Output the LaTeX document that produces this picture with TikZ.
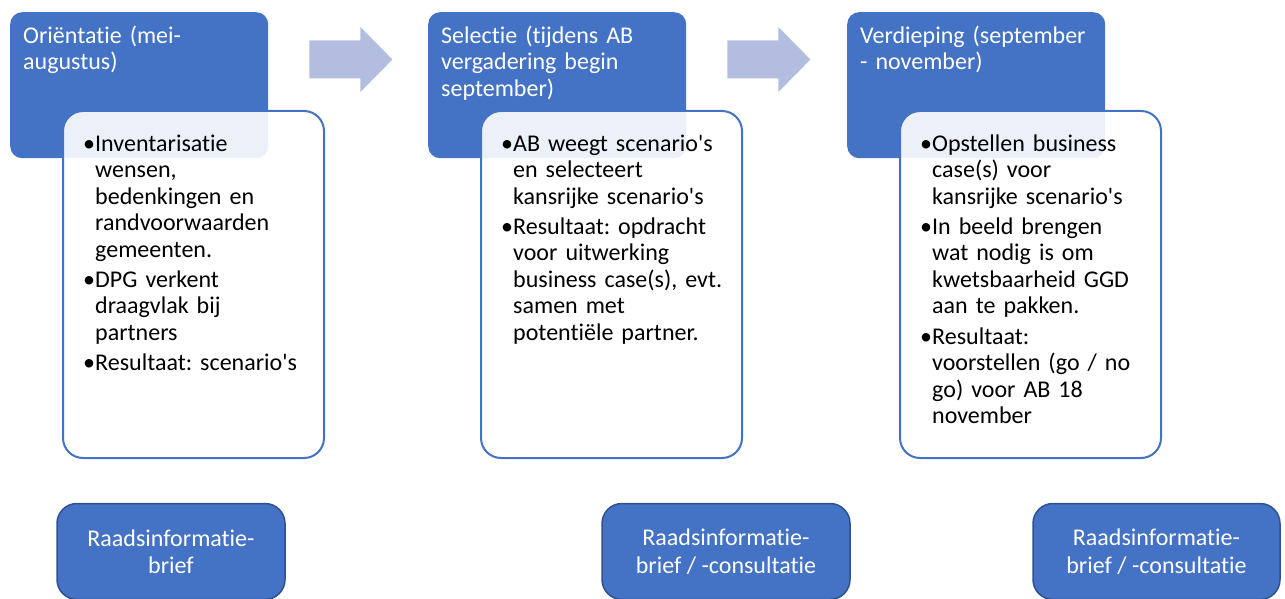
\documentclass[tikz,border=0pt]{standalone}
\usepackage{fontspec}
\setmainfont{Carlito}[Ligatures={TeX,NoCommon}]
\usetikzlibrary{calc}

\definecolor{accentblue}{HTML}{4472C4}
\definecolor{darkblue}{HTML}{2F528F}
\definecolor{arrowblue}{RGB}{178,189,224}

\newcommand{\bitem}[1]{\hangindent=12pt\hangafter=1\makebox[12pt][l]{\textbullet}#1\par}
\newcommand{\apos}{\textquotesingle}
\frenchspacing

\tikzset{
  phase/.style={fill=accentblue, rounded corners=12pt, minimum width=258pt,
    minimum height=146pt, anchor=north west, inner sep=0pt},
  phasetext/.style={anchor=base west, inner sep=0pt, text width=240pt, align=left,
    text=white, font=\fontsize{24}{26.5}\selectfont},
  card/.style={draw=accentblue, line width=2pt, fill=white, fill opacity=0.9,
    rounded corners=20pt, minimum width=261pt, minimum height=347pt,
    anchor=north west, inner sep=0pt},
  cardtext/.style={anchor=base west, inner sep=0pt, text width=228pt, align=left,
    font=\fontsize{24}{26.5}\selectfont,
    execute at begin node={\setlength{\parskip}{4pt}}},
  council/.style={fill=accentblue, draw=darkblue, line width=1.5pt,
    rounded corners=20pt, minimum height=96pt, text=white, align=center,
    inner sep=0pt, font=\fontsize{24}{27.5}\selectfont},
  flow/.style={fill=arrowblue}
}

\begin{document}
\begin{tikzpicture}[x=1pt,y=-1pt]
  \useasboundingbox (0,0) rectangle (1285,599);
  \clip (0,0) rectangle (1285,599);

  % fase 1: orientatie
  \node[phase] (orient) at (10,12) {};
  \node[phasetext] (orienttitle) at ($(orient.north west)+(13,31.5)$) {Oriëntatie (mei-\\augustus)};
  \node[card] (orientcard) at ($(orient.north west)+(52,98)$) {};
  \node[cardtext] (orientlist) at ($(orientcard.north west)+(21,41)$) {%
    \bitem{Inventarisatie\newline wensen,\newline bedenkingen en\newline randvoorwaarden\newline gemeenten.}%
    \bitem{DPG verkent\newline draagvlak bij\newline partners}%
    \bitem{Resultaat: scenario\apos s}};

  % fase 2: selectie
  \node[phase] (select) at (428,12) {};
  \node[phasetext] (selecttitle) at ($(select.north west)+(13,31.5)$) {Selectie (tijdens AB\\vergadering begin\\september)};
  \node[card] (selectcard) at ($(select.north west)+(52,98)$) {};
  \node[cardtext] (selectlist) at ($(selectcard.north west)+(21,41)$) {%
    \bitem{AB weegt scenario\apos s\newline en selecteert\newline kansrijke scenario\apos s}%
    \bitem{Resultaat: opdracht\newline voor uitwerking\newline business case(s), evt.\newline samen met\newline potentiële partner.}};

  % fase 3: verdieping
  \node[phase] (deepen) at (847,12) {};
  \node[phasetext] (deepentitle) at ($(deepen.north west)+(13,31.5)$) {Verdieping (september\\- november)};
  \node[card] (deepencard) at ($(deepen.north west)+(52,98)$) {};
  \node[cardtext] (deepenlist) at ($(deepencard.north west)+(21,41)$) {%
    \bitem{Opstellen business\newline case(s) voor\newline kansrijke scenario\apos s}%
    \bitem{In beeld brengen\newline wat nodig is om\newline kwetsbaarheid GGD\newline aan te pakken.}%
    \bitem{Resultaat:\newline voorstellen (go / no\newline go) voor AB 18\newline november}};

  % pijlen tussen de fasen
  \coordinate (flowA) at ($(orient.north east)+(41,47.5)$);
  \coordinate (flowB) at ($(select.north east)+(41,47.5)$);
  \fill[flow] (flowA) ++(0,-19) -- ++(51,0) -- ++(0,-13.5) -- ++(32,32.5)
    -- ++(-32,32.5) -- ++(0,-13.5) -- ++(-51,0) -- cycle;
  \fill[flow] (flowB) ++(0,-19) -- ++(51,0) -- ++(0,-13.5) -- ++(32,32.5)
    -- ++(-32,32.5) -- ++(0,-13.5) -- ++(-51,0) -- cycle;

  % raadsinformatie
  \node[council, minimum width=228pt] (briefA) at (171,551.5) {Raadsinformatie-\\brief};
  \node[council, minimum width=248pt] (briefB) at (726,551.5) {Raadsinformatie-\\brief / -consultatie};
  \node[council, minimum width=247pt] (briefC) at (1156.5,551.5) {Raadsinformatie-\\brief / -consultatie};
\end{tikzpicture}
\end{document}
